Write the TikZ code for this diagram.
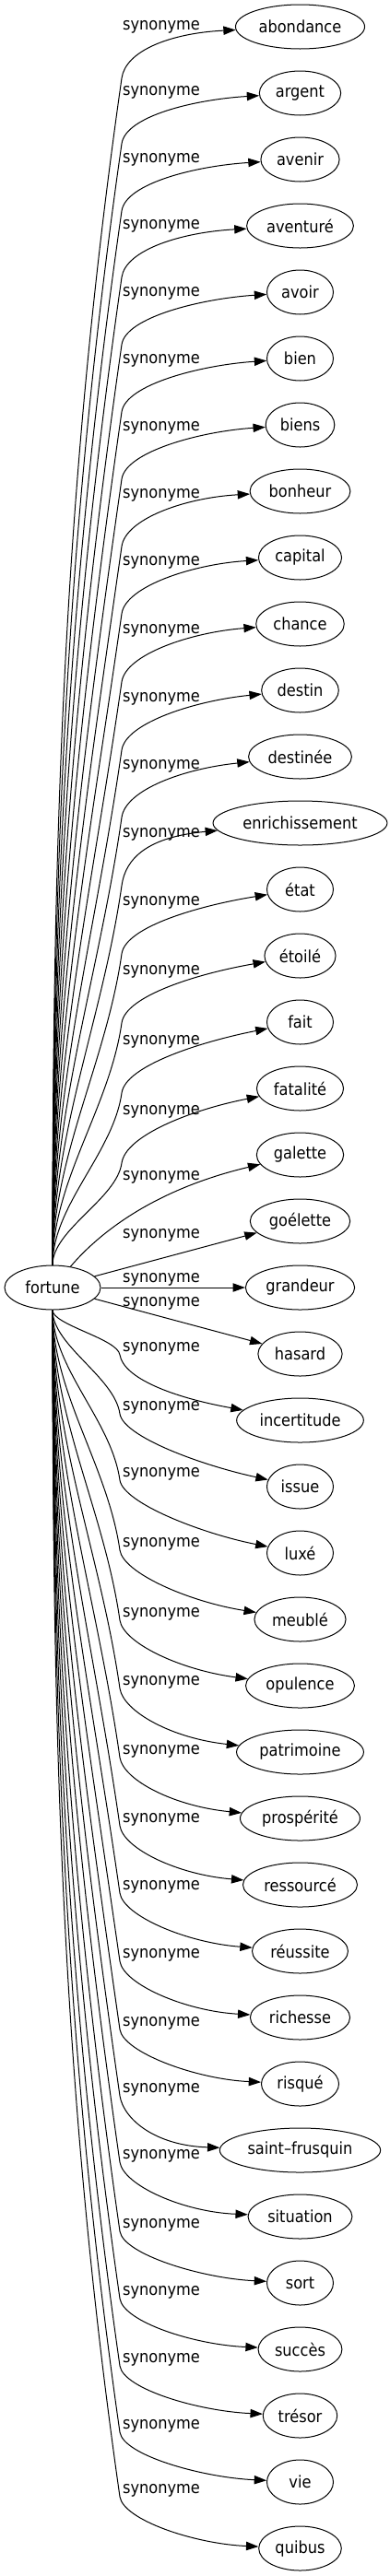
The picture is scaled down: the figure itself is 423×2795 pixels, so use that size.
\documentclass[tikz,border=0pt]{standalone}
\usepackage{fontspec}
\setmainfont{DejaVu Sans Condensed}
\usetikzlibrary{arrows.meta,calc,shapes.geometric}

\begin{document}
\begin{tikzpicture}[
    x=0.75pt, y=-0.75pt,
    word/.style={ellipse, draw, line width=0.75pt, minimum width=54pt, minimum height=36pt, inner xsep=3.5pt, inner ysep=2pt, font=\fontsize{13.5}{16}\selectfont},
    rel/.style={inner sep=0pt, font=\fontsize{13.5}{16}\selectfont},
    arrow/.style={-{Triangle[length=10pt, width=7pt]}, line width=0.75pt}
]
    \useasboundingbox (0,0) rectangle (423,2795);

    % Central word
    \node[word, minimum width=78pt] (fortune) at (57,1397) {fortune};

    % Synonyms and their labels
    \foreach \n/\t/\ly [count=\i from 0] in {
        abondance/abondance/29, argent/argent/100, avenir/avenir/173, aventure/aventuré/245,
        avoir/avoir/318, bien/bien/391, biens/biens/464, bonheur/bonheur/537,
        capital/capital/610, chance/chance/684, destin/destin/758, destinee/destinée/831,
        enrichissement/enrichissement/905, etat/état/979, etoile/étoilé/1054, fait/fait/1130,
        fatalite/fatalité/1206, galette/galette/1277, goelette/goélette/1340, grandeur/grandeur/1388,
        hasard/hasard/1414, incertitude/incertitude/1463, issue/issue/1527, luxe/luxé/1599,
        meuble/meublé/1675, opulence/opulence/1751, patrimoine/patrimoine/1825, prosperite/prospérité/1900,
        ressource/ressourcé/1974, reussite/réussite/2047, richesse/richesse/2121, risque/risqué/2195,
        saintfrusquin/saint--frusquin/2267, situation/situation/2339, sort/sort/2414, succes/succès/2487,
        tresor/trésor/2560, vie/vie/2632, quibus/quibus/2702}
    {
        \node[word] (\n) at (325.5,{29+72*\i}) {\t};
        \node[rel] (l\n) at (175,\ly) {synonyme};
    }

    % Edges going up
    \foreach \n/\ly [count=\i from 0] in {
        abondance/28, argent/99, avenir/172, aventure/244, avoir/317, bien/390,
        biens/463, bonheur/536, capital/609, chance/683, destin/757, destinee/830,
        enrichissement/904, etat/978, etoile/1053, fait/1129, fatalite/1205}
    {
        \pgfmathsetmacro\by{\ly+57}
        \pgfmathsetmacro\len{1373-\by}
        \pgfmathsetmacro\dy{max(7,7+2*(\i-8))}
        \draw[arrow] (fortune) .. controls (57,{1373-0.35*\len}) and ({132-0.05*\len},{\by+0.35*\len}) .. (132,\by)
            .. controls (136,{\by-30}) and ($(\n.west)+(-70,\dy)$) .. (\n);
    }

    % Edges near the middle
    \draw[arrow] (fortune) .. controls (110,1335) and (170,1290) .. (galette);
    \draw[arrow] (fortune) -- (goelette);
    \draw[arrow] (fortune) -- (grandeur);
    \draw[arrow] (fortune) -- (hasard);

    % Edges going down
    \foreach \n/\ly [count=\i from 0] in {
        incertitude/1462, issue/1526, luxe/1598, meuble/1674, opulence/1750, patrimoine/1824,
        prosperite/1899, ressource/1973, reussite/2046, richesse/2120, risque/2194,
        saintfrusquin/2266, situation/2338, sort/2413, succes/2486, tresor/2559, vie/2631, quibus/2701}
    {
        \pgfmathsetmacro\by{\ly+8}
        \pgfmathsetmacro\len{\by-1420}
        \pgfmathsetmacro\dy{max(5,25-2*\i)}
        \draw[arrow] (fortune) .. controls (57,{1420+0.35*\len}) and ({130-0.05*\len},{\by-0.35*\len}) .. (130,\by)
            .. controls (134,{\by+25}) and ($(\n.west)+(-70,-\dy)$) .. (\n);
    }
\end{tikzpicture}
\end{document}
